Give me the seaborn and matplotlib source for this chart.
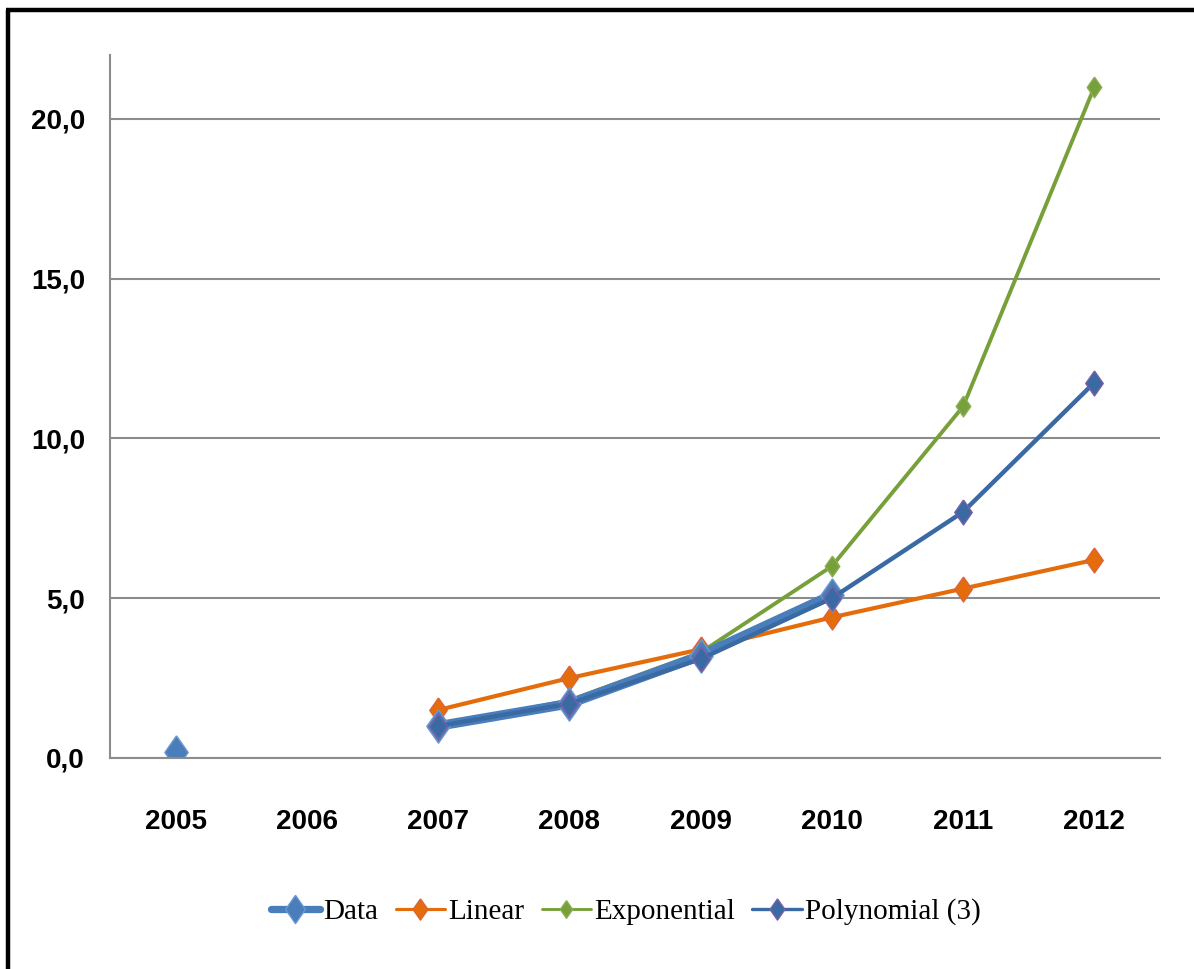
import numpy as np
import pandas as pd
import matplotlib
matplotlib.use("Agg")
import matplotlib.pyplot as plt
import seaborn as sns
from matplotlib.lines import Line2D
from matplotlib.ticker import FuncFormatter, FixedLocator

years = ["2005", "2006", "2007", "2008", "2009", "2010", "2011", "2012"]
data_vals = [0.2, np.nan, 1.0, 1.7, 3.2, 5.1, np.nan, np.nan]
linear_vals = [np.nan, np.nan, 1.5, 2.5, 3.4, 4.4, 5.3, 6.2]
expo_vals = [np.nan, np.nan, 1.0, 1.8, 3.3, 6.0, 11.0, 21.0]
poly_vals = [np.nan, np.nan, 1.0, 1.7, 3.1, 5.0, 7.7, 11.75]

series_names = ["Data", "Linear", "Exponential", "Polynomial (3)"]
series_vals = [data_vals, linear_vals, expo_vals, poly_vals]
draw_order = ["Linear", "Exponential", "Data", "Polynomial (3)"]

sns.set_style("white")
plt.rcParams["text.color"] = "black"
plt.rcParams["xtick.color"] = "black"
plt.rcParams["ytick.color"] = "black"

# excel-like tall diamond
diamond = [(0, 1), (0.7, 0), (0, -1), (-0.7, 0), (0, 1)]

styles = {
    "Data": dict(color="#4A7EBB", lw=7.0, ms=24, mec="#6C97CF"),
    "Linear": dict(color="#E46C0A", lw=3.0, ms=18, mec="#D9653F"),
    "Exponential": dict(color="#77A03A", lw=2.8, ms=15, mec="#8AAF55"),
    "Polynomial (3)": dict(color="#3A6AA3", lw=3.2, ms=18, mec="#7A5FA6"),
}

rows = []
for name, vals in zip(series_names, series_vals):
    seg = 0
    prev_nan = True
    for i, v in enumerate(vals):
        if np.isnan(v):
            prev_nan = True
            continue
        if prev_nan:
            seg += 1
        prev_nan = False
        rows.append({"series": name, "x": i, "value": v, "seg": seg})
df = pd.DataFrame(rows)

fig = plt.figure(figsize=(11.94, 9.69), dpi=100)
ax = fig.add_axes([0.0921, 0.2178, 0.8794, 0.7254])

for name in draw_order:
    st = styles[name]
    sub = df[df["series"] == name]
    for _, part in sub.groupby("seg"):
        sns.lineplot(data=part, x="x", y="value", ax=ax, color=st["color"],
                     linewidth=st["lw"], marker=diamond, markersize=st["ms"],
                     markeredgecolor=st["mec"], markeredgewidth=1.0,
                     estimator=None, sort=False, legend=False)

ax.set_xlim(-0.5, 7.5)
ax.set_ylim(0, 22)
ax.set_yticks([0, 5, 10, 15, 20])
ax.yaxis.set_major_formatter(FuncFormatter(lambda v, p: f"{v:.1f}".replace(".", ",")))
ax.set_xticks(range(len(years)))
ax.set_xticklabels(years)
ax.xaxis.set_minor_locator(FixedLocator(np.arange(-0.5, 8, 1)))
ax.set_xlabel("")
ax.set_ylabel("")

ax.grid(axis="y", color="#8C8C8C", linewidth=1.5)
ax.set_axisbelow(True)
for s in ["top", "right"]:
    ax.spines[s].set_visible(False)
for s in ["left", "bottom"]:
    ax.spines[s].set_color("#8C8C8C")
    ax.spines[s].set_linewidth(1.5)

ax.tick_params(axis="x", which="major", length=0, pad=37)
ax.tick_params(axis="x", which="minor", length=10, width=1.5, color="#8C8C8C")
ax.tick_params(axis="y", which="major", length=7, width=1.5, color="#8C8C8C", pad=11)
for lab in ax.get_xticklabels() + ax.get_yticklabels():
    lab.set_fontfamily("Liberation Sans")
    lab.set_fontweight("bold")
    lab.set_fontsize(20)
    lab.set_color("black")

handles = []
for name in series_names:
    st = styles[name]
    handles.append(Line2D([0], [0], color=st["color"], lw=st["lw"] * 0.75,
                          marker=diamond, markersize=st["ms"] * 0.85,
                          markeredgecolor=st["mec"]))
leg = fig.legend(handles, series_names, loc="center", bbox_to_anchor=(0.524, 0.059),
                 ncol=4, frameon=False, handlelength=1.7, handletextpad=0.1,
                 columnspacing=0.6, prop=dict(family="Liberation Serif", size=21))

# black frame on top and left edge
fig.add_artist(Line2D([0.0067, 0.0067], [0, 0.990], color="black", lw=3.2,
                      transform=fig.transFigure, solid_capstyle="butt"))
fig.add_artist(Line2D([0.0050, 1.0], [0.9897, 0.9897], color="black", lw=3.2,
                      transform=fig.transFigure, solid_capstyle="butt"))

fig.savefig("out.png", dpi=100, facecolor="white")
